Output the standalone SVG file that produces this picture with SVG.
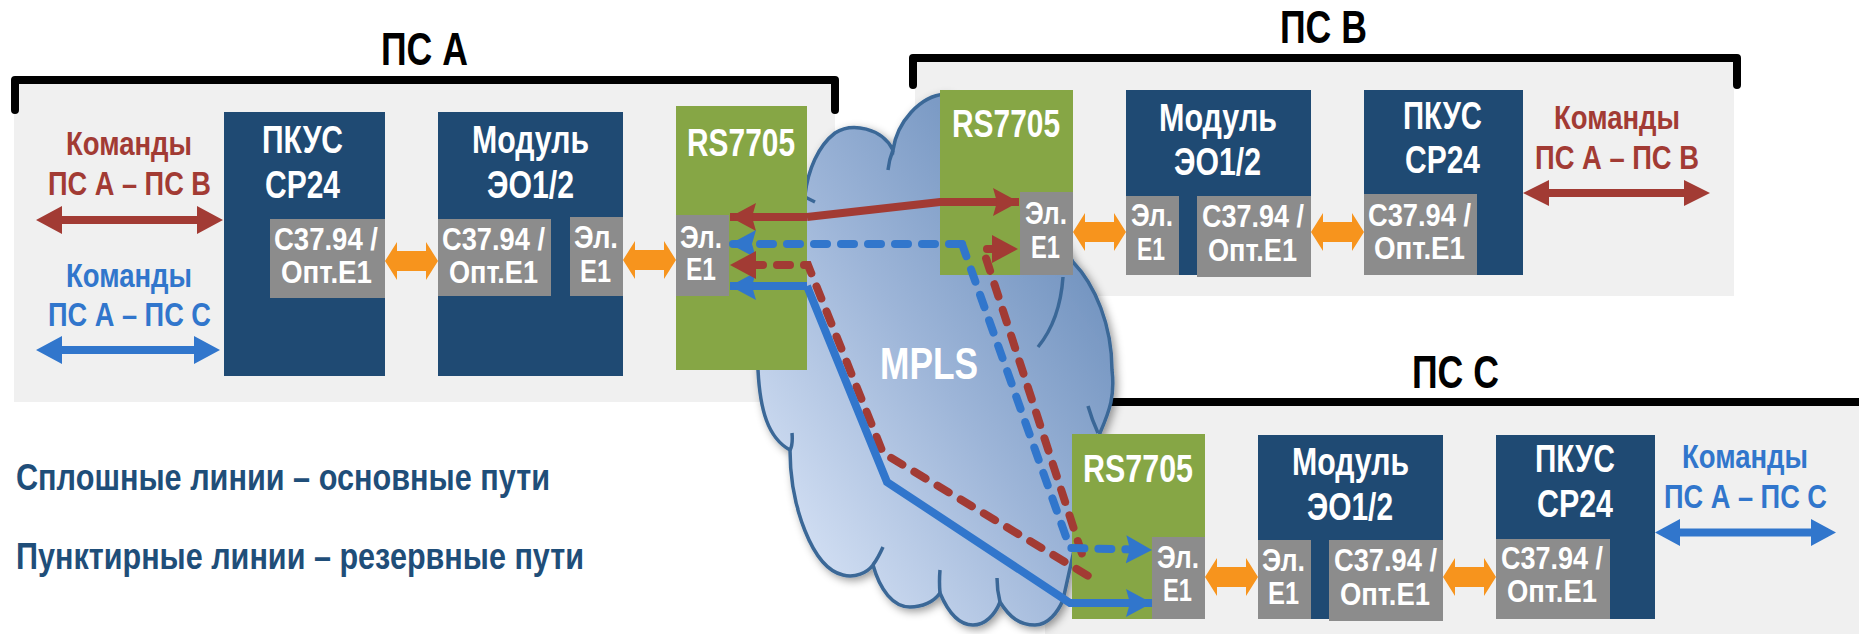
<svg xmlns="http://www.w3.org/2000/svg" width="1859" height="634" viewBox="0 0 1859 634">
<style>
text{font-family:"Liberation Sans",Arial,sans-serif;font-weight:700}
.w{fill:#fff}.k{fill:#000}.n{fill:#1f4e79}.cr{fill:#a23b34}.cb{fill:#3176cc}
.s{font-size:33px}.m{font-size:38px}.g{font-size:31px}.h{font-size:47px}.l{font-size:36px}
.navy{fill:#1f4a73}.green{fill:#86a645}.gray{fill:#8c8c8c}.bg{fill:#f0f0f0}
.br{fill:none;stroke:#000;stroke-width:8;stroke-linecap:round;stroke-linejoin:round}
.tail{fill:none;stroke:#3a6797;stroke-width:3.5}
.ln{fill:none;stroke-width:8;stroke-linejoin:miter}
.red{stroke:#a23b34}.blue{stroke:#3176cc}
.dash{stroke-dasharray:13 14;stroke-linecap:round}
.fr{fill:#a23b34}.fb{fill:#3176cc}.fo{fill:#f7941d}
</style>
<defs>
<linearGradient id="cg" x1="0.9" y1="0.15" x2="0.12" y2="0.92">
<stop offset="0" stop-color="#6a8dbb"/><stop offset="0.5" stop-color="#9db5d8"/><stop offset="1" stop-color="#d6e2f5"/>
</linearGradient>
<filter id="sh" x="-10%" y="-10%" width="120%" height="120%"><feDropShadow dx="3" dy="3" stdDeviation="4" flood-color="#000" flood-opacity="0.4"/></filter>
<marker id="ar" markerUnits="userSpaceOnUse" markerWidth="30" markerHeight="30" refX="26" refY="14" orient="auto"><path d="M0 0L26 14L0 28L4 14Z" fill="#a23b34"/></marker>
<marker id="ab" markerUnits="userSpaceOnUse" markerWidth="30" markerHeight="30" refX="26" refY="14" orient="auto"><path d="M0 0L26 14L0 28L4 14Z" fill="#3176cc"/></marker>
</defs>

<g id="backgrounds">
<rect class="bg" x="14" y="82" width="821" height="320"/>
<rect class="bg" x="915" y="60" width="819" height="236"/>
<rect class="bg" x="1045" y="404" width="814" height="230"/>
</g>
<g id="brackets">
<path class="br" d="M15 110V80H835V110"/>
<path class="br" d="M913 85V58H1737V85"/>
<path class="br" d="M1100 402H1859"/>
<text class="h k" x="381" y="65" textLength="87" lengthAdjust="spacingAndGlyphs">ПС А</text>
<text class="h k" x="1280" y="43" textLength="87" lengthAdjust="spacingAndGlyphs">ПС В</text>
<text class="h k" x="1412" y="388" textLength="87" lengthAdjust="spacingAndGlyphs">ПС С</text>
</g>

<g id="cloud">
<path filter="url(#sh)" fill="url(#cg)" stroke="#3a6797" stroke-width="3.5" d="M945 94C920 96 897 122 893 150C882 128 852 122 835 133C818 146 808 170 805 195C780 235 755 300 758 370C760 410 768 438 790 450C790 505 812 568 843 575C855 578 867 573 873 565C880 590 893 607 910 607C922 607 934 602 940 593C948 612 958 625 973 625C985 625 995 615 1000 602C1010 618 1020 625 1035 625C1048 625 1058 612 1063 600L1100 433C1110 410 1115 395 1112 370C1112 325 1095 285 1073 262L1000 120Z"/>
<path class="tail" d="M888 170Q889 160 893 150M805 197L815 202M792 433Q793 445 790 450M883 547Q878 558 873 565M940 570Q939 582 940 593M997 578Q997 590 1000 602M1088 406Q1092 420 1098 433M1063 277Q1060 320 1038 347"/>
<text class="w" x="880" y="379" font-size="45" textLength="98" lengthAdjust="spacingAndGlyphs">MPLS</text>
</g>

<g id="legend">
<text class="l n" x="16" y="490" textLength="534" lengthAdjust="spacingAndGlyphs">Сплошные линии – основные пути</text>
<text class="l n" x="16" y="569" textLength="568" lengthAdjust="spacingAndGlyphs">Пунктирные линии – резервные пути</text>
</g>

<g id="cmd-a">
<text class="s cr" x="66" y="155" textLength="126" lengthAdjust="spacingAndGlyphs">Команды</text>
<text class="s cr" x="48" y="195" textLength="163" lengthAdjust="spacingAndGlyphs">ПС А – ПС В</text>
<text class="s cb" x="66" y="287" textLength="126" lengthAdjust="spacingAndGlyphs">Команды</text>
<text class="s cb" x="48" y="326" textLength="163" lengthAdjust="spacingAndGlyphs">ПС А – ПС С</text>
</g>

<g id="pkus-a">
<rect class="navy" x="224" y="112" width="161" height="264"/>
<text class="m w" x="262" y="153" textLength="81" lengthAdjust="spacingAndGlyphs">ПКУС</text>
<text class="m w" x="265" y="198" textLength="75" lengthAdjust="spacingAndGlyphs">СР24</text>
<rect class="gray" x="270" y="219" width="115" height="79"/>
<text class="g w" x="274" y="250" textLength="104" lengthAdjust="spacingAndGlyphs">C37.94 /</text>
<text class="g w" x="281" y="283" textLength="91" lengthAdjust="spacingAndGlyphs">Опт.Е1</text>
</g>
<g id="module-a">
<rect class="navy" x="438" y="112" width="185" height="264"/>
<text class="m w" x="472" y="153" textLength="117" lengthAdjust="spacingAndGlyphs">Модуль</text>
<text class="m w" x="487" y="198" textLength="87" lengthAdjust="spacingAndGlyphs">ЭО1/2</text>
<rect class="gray" x="438" y="219" width="113" height="77"/>
<text class="g w" x="442" y="250" textLength="103" lengthAdjust="spacingAndGlyphs">C37.94 /</text>
<text class="g w" x="449" y="283" textLength="89" lengthAdjust="spacingAndGlyphs">Опт.Е1</text>
<rect class="gray" x="570" y="217" width="53" height="79"/>
<text class="g w" x="574" y="248" textLength="44" lengthAdjust="spacingAndGlyphs">Эл.</text>
<text class="g w" x="580" y="282" textLength="31" lengthAdjust="spacingAndGlyphs">Е1</text>
</g>
<g id="rs-a">
<rect class="green" x="676" y="106" width="131" height="264"/>
<text class="m w" x="687" y="156" textLength="108" lengthAdjust="spacingAndGlyphs">RS7705</text>
<rect class="gray" x="676" y="215" width="53" height="81"/>
<text class="g w" x="680" y="248" textLength="42" lengthAdjust="spacingAndGlyphs">Эл.</text>
<text class="g w" x="686" y="280" textLength="30" lengthAdjust="spacingAndGlyphs">Е1</text>
</g>

<g id="rs-b">
<rect class="green" x="940" y="90" width="133" height="185"/>
<text class="m w" x="952" y="137" textLength="108" lengthAdjust="spacingAndGlyphs">RS7705</text>
<rect class="gray" x="1020" y="192" width="53" height="83"/>
<text class="g w" x="1025" y="224" textLength="42" lengthAdjust="spacingAndGlyphs">Эл.</text>
<text class="g w" x="1031" y="258" textLength="29" lengthAdjust="spacingAndGlyphs">Е1</text>
</g>
<g id="module-b">
<rect class="navy" x="1126" y="90" width="185" height="185"/>
<text class="m w" x="1159" y="131" textLength="118" lengthAdjust="spacingAndGlyphs">Модуль</text>
<text class="m w" x="1174" y="175" textLength="87" lengthAdjust="spacingAndGlyphs">ЭО1/2</text>
<rect class="gray" x="1126" y="196" width="53" height="79"/>
<text class="g w" x="1131" y="226" textLength="42" lengthAdjust="spacingAndGlyphs">Эл.</text>
<text class="g w" x="1137" y="260" textLength="28" lengthAdjust="spacingAndGlyphs">Е1</text>
<rect class="gray" x="1197" y="196" width="114" height="81"/>
<text class="g w" x="1202" y="227" textLength="102" lengthAdjust="spacingAndGlyphs">C37.94 /</text>
<text class="g w" x="1208" y="261" textLength="89" lengthAdjust="spacingAndGlyphs">Опт.Е1</text>
</g>
<g id="pkus-b">
<rect class="navy" x="1364" y="90" width="159" height="185"/>
<text class="m w" x="1403" y="129" textLength="79" lengthAdjust="spacingAndGlyphs">ПКУС</text>
<text class="m w" x="1405" y="173" textLength="75" lengthAdjust="spacingAndGlyphs">СР24</text>
<rect class="gray" x="1364" y="194" width="113" height="81"/>
<text class="g w" x="1368" y="226" textLength="103" lengthAdjust="spacingAndGlyphs">C37.94 /</text>
<text class="g w" x="1374" y="259" textLength="91" lengthAdjust="spacingAndGlyphs">Опт.Е1</text>
</g>
<g id="cmd-b">
<text class="s cr" x="1554" y="129" textLength="126" lengthAdjust="spacingAndGlyphs">Команды</text>
<text class="s cr" x="1535" y="169" textLength="164" lengthAdjust="spacingAndGlyphs">ПС А – ПС В</text>
</g>

<g id="rs-c">
<rect class="green" x="1072" y="434" width="133" height="185"/>
<text class="m w" x="1083" y="482" textLength="110" lengthAdjust="spacingAndGlyphs">RS7705</text>
<rect class="gray" x="1152" y="537" width="53" height="82"/>
<text class="g w" x="1157" y="568" textLength="42" lengthAdjust="spacingAndGlyphs">Эл.</text>
<text class="g w" x="1163" y="601" textLength="29" lengthAdjust="spacingAndGlyphs">Е1</text>
</g>
<g id="module-c">
<rect class="navy" x="1258" y="435" width="185" height="184"/>
<text class="m w" x="1292" y="475" textLength="117" lengthAdjust="spacingAndGlyphs">Модуль</text>
<text class="m w" x="1307" y="520" textLength="86" lengthAdjust="spacingAndGlyphs">ЭО1/2</text>
<rect class="gray" x="1258" y="540" width="53" height="79"/>
<text class="g w" x="1262" y="571" textLength="43" lengthAdjust="spacingAndGlyphs">Эл.</text>
<text class="g w" x="1268" y="604" textLength="31" lengthAdjust="spacingAndGlyphs">Е1</text>
<rect class="gray" x="1329" y="540" width="114" height="81"/>
<text class="g w" x="1334" y="571" textLength="103" lengthAdjust="spacingAndGlyphs">C37.94 /</text>
<text class="g w" x="1340" y="605" textLength="90" lengthAdjust="spacingAndGlyphs">Опт.Е1</text>
</g>
<g id="pkus-c">
<rect class="navy" x="1496" y="435" width="159" height="184"/>
<text class="m w" x="1535" y="472" textLength="80" lengthAdjust="spacingAndGlyphs">ПКУС</text>
<text class="m w" x="1537" y="517" textLength="76" lengthAdjust="spacingAndGlyphs">СР24</text>
<rect class="gray" x="1496" y="539" width="114" height="80"/>
<text class="g w" x="1501" y="569" textLength="102" lengthAdjust="spacingAndGlyphs">C37.94 /</text>
<text class="g w" x="1507" y="602" textLength="90" lengthAdjust="spacingAndGlyphs">Опт.Е1</text>
</g>
<g id="cmd-c">
<text class="s cb" x="1682" y="468" textLength="126" lengthAdjust="spacingAndGlyphs">Команды</text>
<text class="s cb" x="1664" y="508" textLength="163" lengthAdjust="spacingAndGlyphs">ПС А – ПС С</text>
</g>

<g id="connectors">
<path class="fr" d="M36 220L62 206V216H197V206L223 220L197 234V224H62V234Z"/>
<path class="fb" d="M36 350L62 336V346H194V336L220 350L194 364V354H62V364Z"/>
<path class="fr" d="M1523 193L1549 180V189H1684V180L1710 193L1684 206V197H1549V206Z"/>
<path class="fb" d="M1655 532.500L1680 519V528.500H1811V519L1836 532.500L1811 546V536.500H1680V546Z"/>
<path class="fo" d="M385 261L397 242V251H426V242L438 261L426 280V271H397V280Z"/>
<path class="fo" d="M623 260L635 241V250H664V241L676 260L664 279V270H635V279Z"/>
<path class="fo" d="M1073 232L1085 213V222H1114V213L1126 232L1114 251V242H1085V251Z"/>
<path class="fo" d="M1311 232L1323 213V222H1352V213L1364 232L1352 251V242H1323V251Z"/>
<path class="fo" d="M1205 577L1217 558V567H1246V558L1258 577L1246 596V587H1217V596Z"/>
<path class="fo" d="M1443 577L1455 558V567H1484V558L1496 577L1484 596V587H1455V596Z"/>

<path class="ln red dash" d="M750 265H808L883 453L1090 577"/>
<path class="ln red dash" d="M1000 249H983L1083 557"/>
<path class="ln red" marker-end="url(#ar)" d="M807 217L940 202H1019"/>
<path class="ln red" marker-end="url(#ar)" d="M807 217H730"/>
<path class="ln blue dash" marker-end="url(#ab)" d="M962 244H730"/>
<path class="ln blue dash" marker-end="url(#ab)" d="M962 244L1070 548L1152 550"/>
<path class="ln blue" marker-end="url(#ab)" d="M807 286H730"/>
<path class="ln blue" marker-end="url(#ab)" d="M807 286L887 482L1070 603H1152"/>
<path class="fr" d="M730 265L756 251V279Z"/>
<path class="fr" d="M1018 249L992 235V263Z"/>
</g>
</svg>
